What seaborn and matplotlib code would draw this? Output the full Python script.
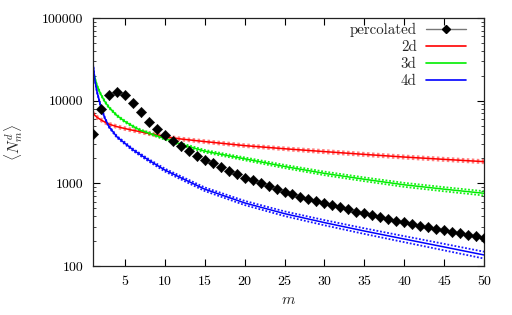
import numpy as np
import pandas as pd
import matplotlib
matplotlib.use("Agg")
import matplotlib.pyplot as plt
from matplotlib.lines import Line2D
from matplotlib.ticker import FixedLocator, LogLocator, NullFormatter
import seaborn as sns

# ---------------- data ----------------
m_perc = list(range(1, 51))
perc = [3950, 7940, 11600, 12800, 11800, 9460, 7240, 5570, 4510, 3850,
        3260, 2810, 2470, 2160, 1920, 1750, 1570, 1410, 1290, 1170,
        1090, 1000, 922, 856, 794, 745, 690, 648, 608, 575,
        545, 512, 483, 455, 435, 411, 392, 371, 354, 339,
        323, 308, 295, 283, 271, 260, 249, 238, 229, 219]
perc_err = 0.12

m_curve = [1, 1.2, 1.5, 2, 2.5, 3, 4, 5, 6, 7, 8, 10, 12, 15, 20, 25, 30, 35, 40, 45, 50]
n_2d = [7100, 6700, 6300, 5850, 5500, 5200, 4850, 4600, 4380, 4200, 4000,
        3680, 3440, 3200, 2860, 2620, 2420, 2240, 2080, 1950, 1830]
n_3d = [22000, 19200, 15200, 11800, 9700, 8300, 6600, 5600, 4900, 4350, 4050,
        3480, 2980, 2450, 1980, 1600, 1320, 1120, 960, 850, 758]
n_4d = [28000, 18700, 12800, 8300, 6100, 4850, 3650, 3050, 2550, 2200, 1900,
        1450, 1170, 850, 580, 430, 335, 265, 212, 170, 136]
# relative error half-widths read at m_curve
err_2d = [0.03, 0.03, 0.03, 0.03, 0.03, 0.03, 0.03, 0.03, 0.03, 0.03, 0.03,
          0.03, 0.03, 0.03, 0.03, 0.03, 0.035, 0.035, 0.035, 0.035, 0.035]
err_3d = [0.015, 0.015, 0.015, 0.018, 0.02, 0.02, 0.022, 0.024, 0.025, 0.026, 0.027,
          0.03, 0.032, 0.035, 0.04, 0.045, 0.05, 0.053, 0.056, 0.058, 0.06]
err_4d = [0.015, 0.015, 0.015, 0.018, 0.02, 0.022, 0.025, 0.028, 0.03, 0.032, 0.034,
          0.04, 0.045, 0.05, 0.058, 0.065, 0.072, 0.078, 0.084, 0.09, 0.095]

series_names = ["2d", "3d", "4d"]
colors = {"2d": "#ff0000", "3d": "#00ee00", "4d": "#0000ff"}
x_ticks = [5, 10, 15, 20, 25, 30, 35, 40, 45, 50]
y_ticks = [100, 1000, 10000, 100000]
y_tick_labels = ["100", "1000", "10000", "100000"]

# ---------------- style ----------------
sns.set_style("ticks")
plt.rcParams["font.family"] = ["cmr10", "DejaVu Serif"]
plt.rcParams["mathtext.fontset"] = "cm"
plt.rcParams["axes.formatter.use_mathtext"] = True

fig = plt.figure(figsize=(5.12, 3.15), dpi=100)
ax = fig.add_axes([93 / 512, 1 - 266 / 315, (484 - 93) / 512, (266 - 18) / 315])

df = pd.DataFrame({
    "m": m_curve * 3,
    "N": n_2d + n_3d + n_4d,
    "err": err_2d + err_3d + err_4d,
    "series": ["2d"] * len(m_curve) + ["3d"] * len(m_curve) + ["4d"] * len(m_curve),
})

for s in series_names:
    sub = df[df["series"] == s]
    c = colors[s]
    alpha_b = 0.5 if s == "2d" else 0.9
    lwb = 1.8 if s == "2d" else 1.3
    ax.plot(sub["m"], sub["N"] * (1 + sub["err"]), ls=(0, (1, 1)), lw=lwb, color=c, alpha=alpha_b)
    ax.plot(sub["m"], sub["N"] * (1 - sub["err"]), ls=(0, (1, 1)), lw=lwb, color=c, alpha=alpha_b)

sns.lineplot(data=df, x="m", y="N", hue="series", palette=colors,
             hue_order=series_names, ax=ax, lw=1.1, legend=False, sort=True)

perc_arr = np.array(perc, dtype=float)
ax.errorbar(m_perc, perc_arr, yerr=[perc_arr * perc_err, perc_arr * perc_err],
            fmt="none", ecolor="#777777", elinewidth=0.9, capsize=0)
sns.scatterplot(x=m_perc, y=perc, marker="D", s=28, color="black",
                edgecolor="black", linewidth=0.3, ax=ax, zorder=5)

ax.set_yscale("log")
ax.set_xlim(1, 50)
ax.set_ylim(100, 100000)
ax.set_xticks(x_ticks)
ax.set_xticklabels([str(t) for t in x_ticks])
ax.yaxis.set_major_locator(FixedLocator(y_ticks))
ax.set_yticklabels(y_tick_labels)
ax.yaxis.set_minor_locator(LogLocator(base=10, subs=np.arange(2, 10)))
ax.yaxis.set_minor_formatter(NullFormatter())
ax.tick_params(axis="both", which="major", direction="in", length=5, width=0.8,
               top=True, right=True, labelsize=10, pad=7, colors="black")
ax.tick_params(axis="y", which="minor", direction="in", length=2.5, width=0.6,
               right=True, left=True)
ax.tick_params(axis="x", which="minor", bottom=False, top=False)
for sp in ax.spines.values():
    sp.set_color("#222222")
    sp.set_linewidth(0.9)

ax.set_xlabel("$m$", fontsize=11, labelpad=4)
ax.set_ylabel(r"$\langle N^d_m\rangle$", fontsize=11, labelpad=12)

handles = [
    Line2D([], [], color="#777777", lw=1.0, marker="D", ms=4,
           markerfacecolor="black", markeredgecolor="black"),
    Line2D([], [], color=colors["2d"], lw=1.2),
    Line2D([], [], color=colors["3d"], lw=1.2),
    Line2D([], [], color=colors["4d"], lw=1.2),
]
leg = ax.legend(handles, ["percolated"] + series_names, loc="upper right",
                bbox_to_anchor=(466 / 512, 1 - 23 / 315), bbox_transform=fig.transFigure,
                frameon=False, markerfirst=False, fontsize=10.8, handlelength=2.7,
                handletextpad=0.6, labelspacing=0.22, borderpad=0, borderaxespad=0)

fig.savefig("out.png", dpi=100)
